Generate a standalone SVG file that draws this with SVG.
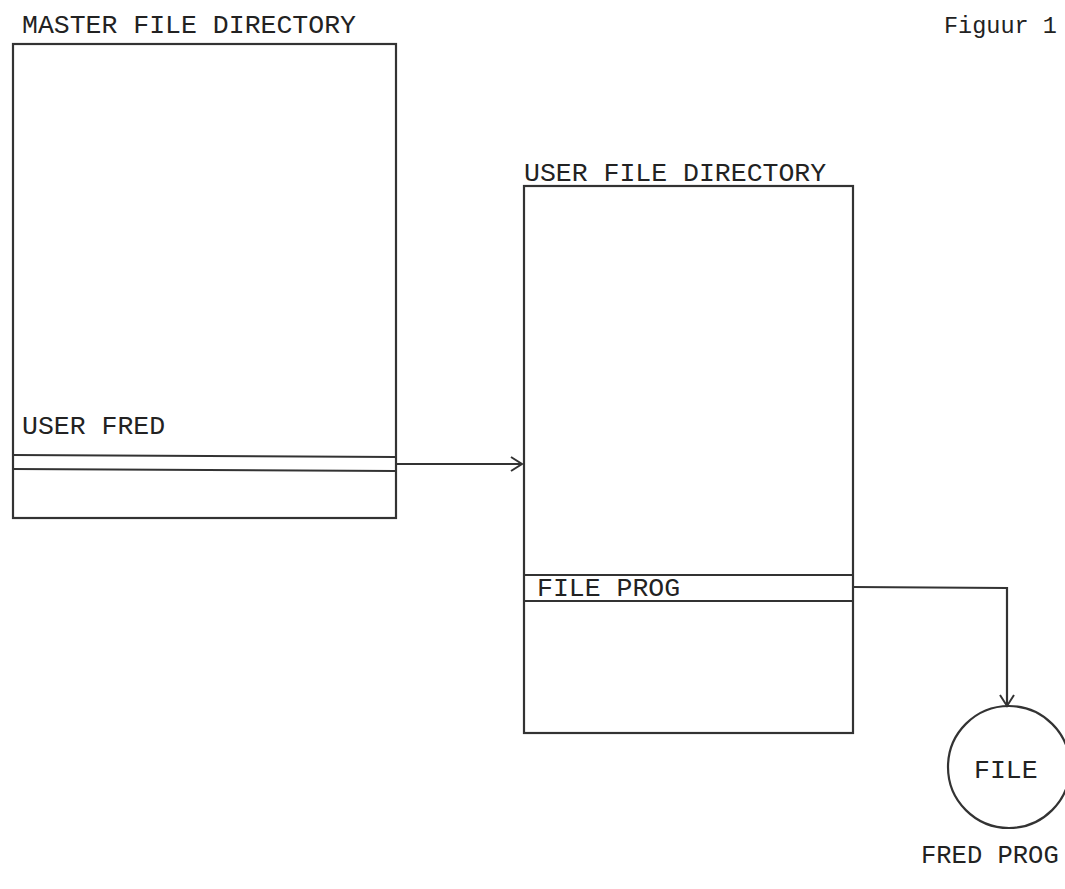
<svg xmlns="http://www.w3.org/2000/svg" width="1065" height="889" viewBox="0 0 1065 889">
<defs>
<style>
text{font-family:"Liberation Mono","DejaVu Sans Mono",monospace;font-size:26.5px;fill:#222}
.b{fill:none;stroke:#333;stroke-width:2.2}
</style>
<marker id="ah" markerWidth="14" markerHeight="16" refX="12" refY="8" orient="auto" markerUnits="userSpaceOnUse">
<path d="M1,1 L12,8 L1,15" fill="none" stroke="#333" stroke-width="2"/>
</marker>
</defs>
<rect width="1065" height="889" fill="#fff"/>
<text x="944" y="33" style="font-size:23.5px">Figuur 1</text>
<g id="mfd">
<text x="22" y="33">MASTER FILE DIRECTORY</text>
<rect class="b" x="13" y="44" width="383" height="474"/>
<line class="b" x1="13" y1="455" x2="396" y2="457"/>
<line class="b" x1="13" y1="469" x2="396" y2="471"/>
<text x="22" y="434">USER FRED</text>
</g>
<g id="ufd">
<text x="524" y="181">USER FILE DIRECTORY</text>
<rect class="b" x="524" y="186" width="329" height="547"/>
<line class="b" x1="524" y1="575" x2="853" y2="575"/>
<line class="b" x1="524" y1="601" x2="853" y2="601"/>
<text x="537" y="596">FILE PROG</text>
</g>
<g id="file">
<circle class="b" cx="1009" cy="767" r="61"/>
<text x="974" y="778">FILE</text>
<text x="921" y="863" style="font-size:25.5px">FRED PROG</text>
</g>
<g id="connectors">
<line class="b" x1="396" y1="464" x2="522" y2="464" marker-end="url(#ah)"/>
<polyline class="b" points="853,587 1007,588 1007,706" marker-end="url(#ah)"/>
</g>
</svg>
